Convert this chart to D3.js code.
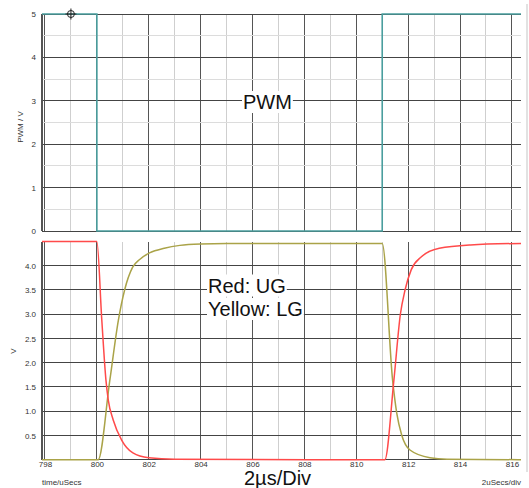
<!DOCTYPE html>
<html>
<head>
<meta charset="utf-8">
<script src="https://cdn.jsdelivr.net/npm/d3@7"></script>
<style>
  body { margin: 0; background: #fff; }
  svg { display: block; font-family: "Liberation Sans", Arial, sans-serif; }
</style>
</head>
<body>
<svg id="chart" width="529" height="488"></svg>
<script>
// time axis (µs)
const timeTicks = [798, 800, 802, 804, 806, 808, 810, 812, 814, 816];
const timeGrid = d3.range(798, 817, 1);

// top panel: PWM
const pwmTicks = [0, 1, 2, 3, 4, 5];
const pwmMinor = [0.5, 1.5, 2.5, 3.5, 4.5];
const pwmT = [797.885, 800, 800, 811, 811, 816.35];
const pwmV = [5, 5, 0, 0, 5, 5];

// bottom panel: gate drive
const gateTicks = [0.5, 1.0, 1.5, 2.0, 2.5, 3.0, 3.5, 4.0];
const ugT = [797.885, 800.0, 800.19, 800.35, 800.44, 800.63, 800.96, 801.39, 802.0, 803.0, 811.1,
             811.45, 811.7, 811.88, 812.12, 812.5, 813.2, 814.4, 816.35];
const ugV = [4.5, 4.5, 2.88, 1.64, 1.23, 0.82, 0.40, 0.14, 0.04, 0.01, 0.0,
             1.64, 3.0, 3.5, 3.92, 4.18, 4.36, 4.43, 4.46];
const lgT = [797.885, 800.05, 800.5, 800.83, 801.07, 801.38, 801.65, 802.05, 802.6, 803.2, 804.0, 805.0, 811.0,
             811.4, 811.56, 811.75, 812.07, 812.84, 813.5, 816.35];
const lgV = [0, 0, 1.64, 2.88, 3.5, 3.97, 4.13, 4.27, 4.36, 4.42, 4.45, 4.46, 4.46,
             1.64, 0.96, 0.51, 0.2, 0.04, 0.01, 0];

const svg = d3.select("#chart");

const x = d3.scaleLinear().domain([797.885, 816.35]).range([42, 521]);
const yTop = d3.scaleLinear().domain([0, 5]).range([231, 14]);
const yBot = d3.scaleLinear().domain([0, 4.5]).range([459.7, 241.5]);

const minorCol = "#cfcfcf", majorCol = "#555";

function grid(y, yMajor, yMinor) {
  const g = svg.append("g").attr("shape-rendering", "crispEdges");
  const [y0, y1] = y.range();
  g.selectAll(".vx").data(timeGrid).join("line")
    .attr("x1", d => x(d)).attr("x2", d => x(d))
    .attr("y1", y0).attr("y2", y1)
    .attr("stroke", d => d % 2 === 0 ? majorCol : minorCol)
    .attr("stroke-width", 1);
  g.selectAll(".hm").data(yMinor).join("line")
    .attr("x1", x.range()[0]).attr("x2", x.range()[1])
    .attr("y1", d => y(d)).attr("y2", d => y(d))
    .attr("stroke", "#dcdcdc");
  g.selectAll(".hj").data(yMajor).join("line")
    .attr("x1", x.range()[0]).attr("x2", x.range()[1])
    .attr("y1", d => y(d)).attr("y2", d => y(d))
    .attr("stroke", "#444");
  // left axis bar
  g.append("line")
    .attr("x1", x.range()[0]).attr("x2", x.range()[0])
    .attr("y1", y0).attr("y2", y1)
    .attr("stroke", "#555").attr("stroke-width", 2.5);
}

grid(yTop, pwmTicks, pwmMinor);
grid(yBot, [0].concat(gateTicks), []);

// right edge frame
svg.append("rect").attr("x", 526).attr("y", 4).attr("width", 2).attr("height", 468).attr("fill", "#e2e2e2");

// axes labels through d3 axes
function styleAxis(g) {
  g.select(".domain").remove();
  g.selectAll(".tick line").remove();
  g.selectAll("text").attr("fill", "#333").attr("font-size", 8)
    .attr("font-family", "Liberation Sans, Arial, sans-serif");
}
svg.append("g").attr("transform", "translate(38,0)")
  .call(d3.axisLeft(yTop).tickValues(pwmTicks).tickFormat(d3.format("d")).tickSize(0).tickPadding(2))
  .call(styleAxis);
svg.append("g").attr("transform", "translate(38,0)")
  .call(d3.axisLeft(yBot).tickValues(gateTicks).tickFormat(d3.format(".1f")).tickSize(0).tickPadding(2))
  .call(styleAxis);
svg.append("g").attr("transform", "translate(0,459)")
  .call(d3.axisBottom(x).tickValues(timeTicks).tickFormat(d3.format("d")).tickSize(0).tickPadding(2))
  .call(styleAxis);

// traces
const pwmLine = d3.line().x(i => x(pwmT[i])).y(i => yTop(pwmV[i]));
svg.append("path").attr("d", pwmLine(d3.range(pwmT.length)))
  .attr("fill", "none").attr("stroke", "#4a9e9e").attr("stroke-width", 1.6);

const lgLine = d3.line().x(i => x(lgT[i])).y(i => yBot(lgV[i])).curve(d3.curveMonotoneX);
svg.append("path").attr("d", lgLine(d3.range(lgT.length)))
  .attr("fill", "none").attr("stroke", "#aaa348").attr("stroke-width", 1.5);

const ugLine = d3.line().x(i => x(ugT[i])).y(i => yBot(ugV[i])).curve(d3.curveMonotoneX);
svg.append("path").attr("d", ugLine(d3.range(ugT.length)))
  .attr("fill", "none").attr("stroke", "#ff4a4a").attr("stroke-width", 1.5);

// cursor marker
const cx = x(799), cy = yTop(5);
const cur = svg.append("g").attr("stroke", "#222").attr("stroke-width", 1).attr("fill", "none");
cur.append("circle").attr("cx", cx).attr("cy", cy).attr("r", 3.5);
cur.append("line").attr("x1", cx - 5.5).attr("x2", cx + 5.5).attr("y1", cy).attr("y2", cy);
cur.append("line").attr("x1", cx).attr("x2", cx).attr("y1", cy - 5.5).attr("y2", cy + 5.5);

// labels with white boxes
function boxedText(tx, ty, str, size) {
  const g = svg.append("g");
  const r = g.append("rect").attr("fill", "#fff");
  const t = g.append("text").attr("x", tx).attr("y", ty).attr("font-size", size)
    .attr("fill", "#111").text(str);
  const b = t.node().getBBox();
  r.attr("x", b.x - 1).attr("y", b.y).attr("width", b.width + 2).attr("height", b.height);
}
boxedText(243, 109, "PWM", 20);
boxedText(208, 292.5, "Red: UG", 20);
boxedText(208, 316, "Yellow: LG", 20);

svg.append("text").attr("x", 244).attr("y", 485).attr("font-size", 20).attr("fill", "#111").text("2µs/Div");

svg.append("text").attr("x", 42).attr("y", 485).attr("font-size", 8).attr("fill", "#333").text("time/uSecs");
svg.append("text").attr("x", 521).attr("y", 485).attr("font-size", 8).attr("fill", "#333")
  .attr("text-anchor", "end").text("2uSecs/div");

svg.append("text").attr("transform", "translate(23,127) rotate(-90)").attr("text-anchor", "middle")
  .attr("font-size", 8).attr("fill", "#333").text("PWM / V");
svg.append("text").attr("transform", "translate(16,351) rotate(-90)").attr("text-anchor", "middle")
  .attr("font-size", 8).attr("fill", "#333").text("V");
</script>
</body>
</html>
